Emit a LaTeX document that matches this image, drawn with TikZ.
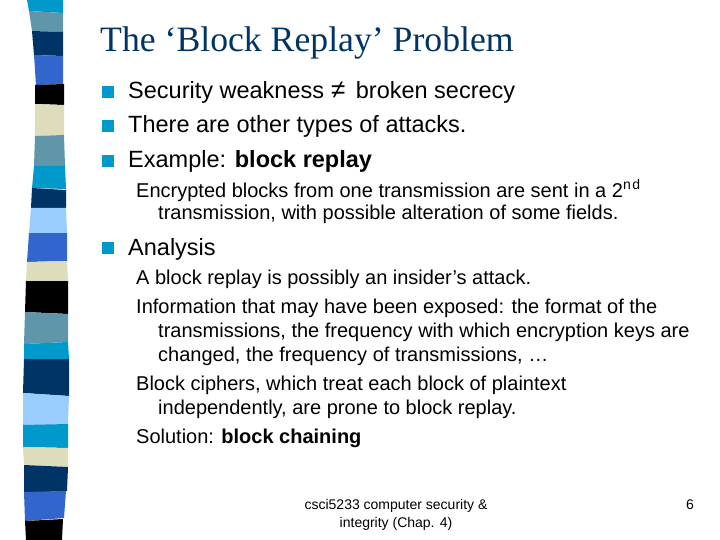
\documentclass[tikz,border=0pt]{standalone}
\usepackage{fontspec}
\setmainfont{Liberation Sans}
\newfontfamily\titlefont{Liberation Serif}
\usepackage{xcolor}
\definecolor{stripcyan}{HTML}{0099CC}
\definecolor{stripteal}{HTML}{5F96AA}
\definecolor{stripnavy}{HTML}{003366}
\definecolor{stripblue}{HTML}{3366CC}
\definecolor{stripcream}{HTML}{DDDDBB}
\definecolor{striplight}{HTML}{99CCFF}
\tikzset{
  txt/.style={inner sep=0pt, anchor=base west, align=left},
  title/.style={txt, text=stripnavy, font=\titlefont\fontsize{35.7}{36}\selectfont},
  lvlone/.style={txt, font=\fontsize{23.5}{24}\selectfont},
  lvltwo/.style={txt, font=\fontsize{20}{20}\selectfont},
  foot/.style={inner sep=0pt, anchor=base, font=\fontsize{14}{14}\selectfont}
}
\begin{document}
\begin{tikzpicture}[x=1pt,y=-1pt]
\useasboundingbox (0,0) rectangle (720,540);
% strip on the left
\fill [stripcyan] (27,0)--(63,0)--(63,13)--(29,11)--cycle;
\fill [stripteal] (29,11)--(63,13)--(63,32)--(32,31)--cycle;
\fill [stripnavy] (32,31)--(63,32)--(63,56)--(34,55)--cycle;
\fill [stripblue] (34,55)--(63,56)--(63,84)--(36,85)--cycle;
\fill [black] (35,85)--(64,84)--(64,105)--(35,104)--cycle;
\fill [stripcream] (35,104)--(64,105)--(64,135)--(35,136)--cycle;
\fill [stripteal] (35,136)--(64,135)--(65,166)--(34,166)--cycle;
\fill [stripcyan] (34,166)--(65,166)--(66,189)--(32,188)--cycle;
\fill [stripnavy] (32,188)--(66,190)--(66,208)--(31,208)--cycle;
\fill [striplight] (31,208)--(66,208)--(67,233)--(29,233)--cycle;
\fill [stripblue] (29,233)--(67,233)--(67,261)--(27,262)--cycle;
\fill [stripcream] (27,262)--(67,261)--(68,281)--(26,281)--cycle;
\fill [black] (26,281)--(68,281)--(68,314)--(25,312)--cycle;
\fill [stripteal] (25,312)--(68,314)--(68,342)--(24,344)--cycle;
\fill [stripcyan] (24,344)--(68,342)--(69,359)--(24,359)--cycle;
\fill [stripnavy] (24,359)--(69,359)--(69,396)--(23,393)--cycle;
\fill [striplight] (23,393)--(69,396)--(68,424)--(23,426)--cycle;
\fill [stripcyan] (23,425)--(68,424)--(68,448)--(23,447)--cycle;
\fill [stripcream] (23,447)--(68,448)--(68,467)--(24,465)--cycle;
\fill [stripnavy] (24,465)--(68,467)--(67,491)--(24,493)--cycle;
\fill [stripblue] (24,492)--(66,491)--(64,518)--(25,521)--cycle;
\fill [black] (25,521)--(63,519)--(62,540)--(26,540)--cycle;
% title
\node [title] (head) at (100,52) {The ‘Block Replay’ Problem};
% bullets
\fill [stripcyan] (102,86) rectangle (114,98);
\fill [stripcyan] (102,120) rectangle (114,132);
\fill [stripcyan] (102,155) rectangle (114,167);
\fill [stripcyan] (102,242) rectangle (114,254);
% first level
\node [lvlone] (sec) at (128,99) {Security weakness\kern7pt{\fontsize{26}{26}\selectfont ≠}\kern10.5pt broken secrecy};
\node [lvlone] (other) at (128,133) {There are other types of attacks.};
\node [lvlone] (ex) at (128,168) {Example: \textbf{block replay}};
\node [lvlone] (ana) at (128,255) {Analysis};
% second level
\node [lvltwo] (enc) at (136,197) {Encrypted blocks from one transmission are sent in a 2\textsuperscript{n\kern1.5pt d}};
\node [lvltwo] (enc2) at (158,220) {transmission, with possible alteration of some fields.};
\node [lvltwo] (ins) at (136,284) {A block replay is possibly an insider’s attack.};
\node [lvltwo] (inf) at (136,313) {Information that may have been exposed: the format of the};
\node [lvltwo] (inf2) at (158,337) {transmissions, the frequency with which encryption keys are};
\node [lvltwo] (inf3) at (158,361) {changed, the frequency of transmissions, …};
\node [lvltwo] (blk) at (136,390) {Block ciphers, which treat each block of plaintext};
\node [lvltwo] (blk2) at (158,414) {independently, are prone to block replay.};
\node [lvltwo] (sol) at (136,443) {Solution: \textbf{block chaining}};
% footer
\node [foot] (f1) at (396,509) {csci5233 computer security \&};
\node [foot] (f2) at (396,527) {integrity (Chap. 4)};
\node [foot] (pg) at (690,509) {6};
\end{tikzpicture}
\end{document}
